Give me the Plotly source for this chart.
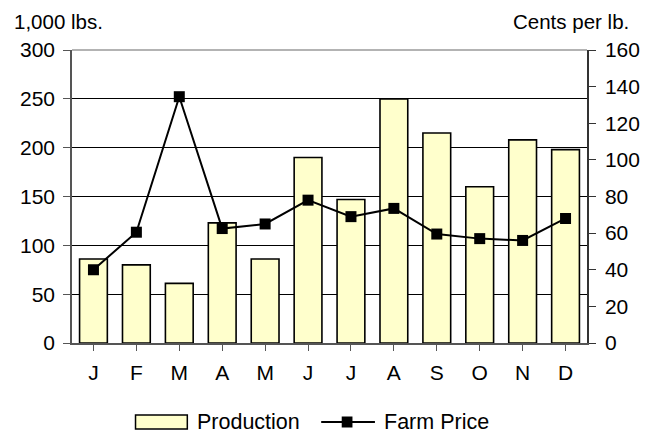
import plotly.graph_objects as go

months = ["J", "F", "M", "A", "M", "J", "J", "A", "S", "O", "N", "D"]
production = [86, 80, 61, 123, 86, 190, 147, 250, 215, 160, 208, 198]
farm_price = [40, 60.5, 134.5, 62.5, 65, 78, 69, 73.5, 59.5, 57, 56, 68]
left_ticks = [0, 50, 100, 150, 200, 250, 300]
right_ticks = [0, 20, 40, 60, 80, 100, 120, 140, 160]

x = list(range(len(months)))
FONT = "Liberation Sans, Arial, sans-serif"
FS = 21

fig = go.Figure()
fig.add_trace(go.Bar(
    x=x, y=production, name="Production",
    marker=dict(color="#FFFFCC", line=dict(color="#000000", width=1.6)),
    showlegend=False, yaxis="y",
))
fig.add_trace(go.Scatter(
    x=x, y=farm_price, name="Farm Price", mode="lines+markers",
    line=dict(color="#000000", width=2),
    marker=dict(symbol="square", size=11, color="#000000"),
    showlegend=False, yaxis="y2",
))

# page has an 8px body margin: figure coords = page coords - 8
OFF = 8
W, H = 652 - OFF, 434 - OFF
L, R, T, B = 70 - OFF, 652 - 597, 50 - OFF, 434 - 343
pw, ph = W - L - R, H - T - B

def px(xp):
    return (xp - OFF - L) / pw

def py(yp):
    return (H - B - (yp - OFF)) / ph

LEG_Y = 422
shapes = [
    dict(type="line", xref="paper", yref="paper", x0=0, x1=1, y0=1, y1=1,
         line=dict(color="#9a9a9a", width=1.5), layer="above"),
    dict(type="rect", xref="paper", yref="paper",
         x0=px(135), x1=px(188), y0=py(LEG_Y + 7), y1=py(LEG_Y - 7),
         fillcolor="#FFFFCC", line=dict(color="#000000", width=1.5)),
    dict(type="line", xref="paper", yref="paper",
         x0=px(325), x1=px(380), y0=py(LEG_Y), y1=py(LEG_Y),
         line=dict(color="#000000", width=2)),
    dict(type="rect", xref="paper", yref="paper",
         x0=px(346), x1=px(357), y0=py(LEG_Y + 5.5), y1=py(LEG_Y - 5.5),
         fillcolor="#000000", line=dict(color="#000000", width=0)),
]

annotations = [
    dict(text="1,000 lbs.", xref="paper", yref="paper", x=px(9), y=py(22),
         xanchor="left", yanchor="middle", showarrow=False,
         font=dict(family=FONT, size=20.5, color="#000")),
    dict(text="Cents per lb.", xref="paper", yref="paper", x=px(642), y=py(22),
         xanchor="right", yanchor="middle", showarrow=False,
         font=dict(family=FONT, size=20.5, color="#000")),
    dict(text="Production", xref="paper", yref="paper", x=px(196), y=py(LEG_Y),
         xanchor="left", yanchor="middle", showarrow=False,
         font=dict(family=FONT, size=21.5, color="#000")),
    dict(text="Farm Price", xref="paper", yref="paper", x=px(387), y=py(LEG_Y),
         xanchor="left", yanchor="middle", showarrow=False,
         font=dict(family=FONT, size=21.5, color="#000")),
]

fig.update_layout(
    width=W, height=H,
    margin=dict(l=L, r=R, t=T, b=B, pad=0),
    paper_bgcolor="white", plot_bgcolor="white",
    bargap=0.353,
    font=dict(family=FONT, size=FS, color="#000"),
    xaxis=dict(
        tickmode="array", tickvals=x, ticktext=months,
        range=[-0.5, len(months) - 0.5],
        tickson="boundaries", ticks="outside", ticklen=6, tickcolor="#555",
        showline=True, linecolor="#555", linewidth=1.5,
        showgrid=False, zeroline=False, ticklabelstandoff=4,
        tickfont=dict(family=FONT, size=FS, color="#000"),
    ),
    yaxis=dict(
        range=[0, 300], tickvals=left_ticks,
        ticks="outside", ticklen=7, tickcolor="#555",
        showline=True, linecolor="#555", linewidth=1.5,
        showgrid=True, gridcolor="#000000", gridwidth=1,
        zeroline=False, ticklabelstandoff=4,
        tickfont=dict(family=FONT, size=FS, color="#000"),
    ),
    yaxis2=dict(
        range=[0, 160], tickvals=right_ticks, overlaying="y", side="right",
        ticks="outside", ticklen=7, tickcolor="#333",
        showline=True, linecolor="#333", linewidth=1.5,
        showgrid=False, zeroline=False, ticklabelstandoff=5,
        tickfont=dict(family=FONT, size=FS, color="#000"),
    ),
    shapes=shapes,
    annotations=annotations,
    showlegend=False,
)

fig.write_html("out.html")
